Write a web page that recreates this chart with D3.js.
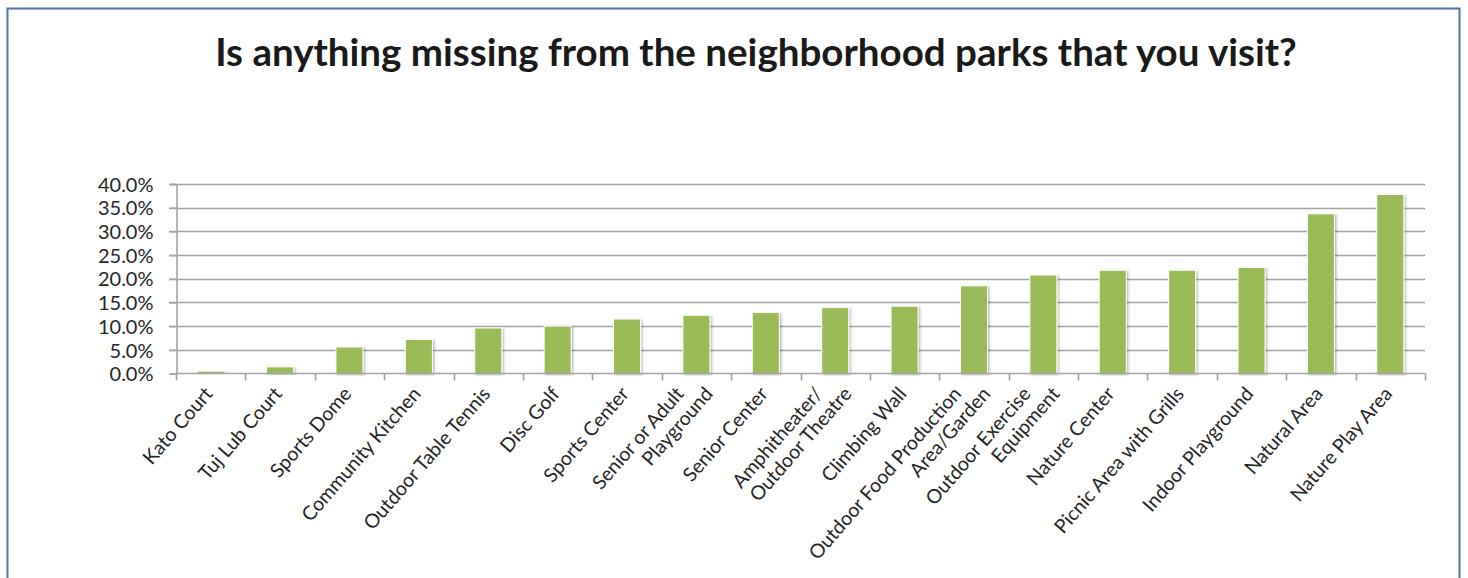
<!DOCTYPE html>
<html>
<head>
<meta charset="utf-8">
<script src="https://cdn.jsdelivr.net/npm/d3@7"></script>
<style>
  html, body { margin: 0; padding: 0; background: #fff; }
  svg { display: block; }
</style>
</head>
<body>
<svg id="chart" width="1468" height="578"></svg>
<script>
// Amenities respondents said are missing from neighborhood parks (share of responses, %)
const categories = [
  "Kato Court", "Tuj Lub Court", "Sports Dome", "Community Kitchen",
  "Outdoor Table Tennis", "Disc Golf", "Sports Center",
  "Senior or Adult\nPlayground", "Senior Center",
  "Amphitheater/\nOutdoor Theatre", "Climbing Wall",
  "Outdoor Food Production\nArea/Garden", "Outdoor Exercise\nEquipment",
  "Nature Center", "Picnic Area with Grills", "Indoor Playground",
  "Natural Area", "Nature Play Area"
];
const values = [0.5, 1.4, 5.6, 7.2, 9.6, 10.0, 11.5, 12.3, 12.9, 13.9, 14.2,
                18.5, 20.8, 21.8, 21.8, 22.4, 33.7, 37.8];
const yTicks = [0, 5, 10, 15, 20, 25, 30, 35, 40];
const titleText = "Is anything missing from the neighborhood parks that you visit?";

const svg = d3.select("#chart");
const plot = { left: 176, right: 1425, top: 184, bottom: 373.5 };

// drop shadow used under the bars
const defs = svg.append("defs");
const f = defs.append("filter").attr("id", "barShadow")
  .attr("x", "-30%").attr("y", "-10%").attr("width", "160%").attr("height", "130%");
f.append("feDropShadow").attr("dx", 1.5).attr("dy", 1).attr("stdDeviation", 1.2)
  .attr("flood-color", "#000").attr("flood-opacity", 0.28);

// outer chart frame
svg.append("rect")
  .attr("x", 7.5).attr("y", 8.5).attr("width", 1452).attr("height", 620)
  .attr("fill", "#fff").attr("stroke", "#4a78ad").attr("stroke-width", 2);

// title, fitted to its line width
const title = svg.append("text")
  .attr("x", 756).attr("y", 66)
  .attr("text-anchor", "middle")
  .attr("font-family", "Lato, 'Open Sans', sans-serif")
  .attr("font-weight", 700)
  .attr("font-size", 36)
  .attr("fill", "#1a1a1a")
  .text(titleText);
const tw = title.node().getComputedTextLength();
title.attr("font-size", 36 * 1082 / tw);

const x = d3.scaleBand()
  .domain(categories)
  .range([plot.left, plot.right])
  .paddingInner(0.61)
  .paddingOuter(0.305);

const y = d3.scaleLinear()
  .domain([0, 40])
  .range([plot.bottom, plot.top]);

// horizontal gridlines
svg.append("g").selectAll("line")
  .data(yTicks.filter(d => d > 0))
  .join("line")
  .attr("x1", plot.left - 7).attr("x2", plot.right)
  .attr("y1", d => Math.round(y(d)) + 0.5).attr("y2", d => Math.round(y(d)) + 0.5)
  .attr("stroke", "#a3a3a3").attr("stroke-width", 1.6);

// y axis
const yAxis = d3.axisLeft(y)
  .tickValues(yTicks)
  .tickSize(7)
  .tickPadding(16)
  .tickFormat(d => d.toFixed(1) + "%");
const gy = svg.append("g")
  .attr("transform", `translate(${plot.left + 0.5},0)`)
  .call(yAxis);
gy.select(".domain").attr("stroke", "#a3a3a3").attr("stroke-width", 1.6);
gy.selectAll(".tick line").attr("stroke", "#a3a3a3").attr("stroke-width", 1.6);
gy.selectAll(".tick text")
  .attr("font-family", "Lato, sans-serif")
  .attr("font-size", 20)
  .attr("fill", "#262626")
  .attr("dy", "0.36em");

// bars
svg.append("g").selectAll("rect")
  .data(categories.map((c, i) => ({ c, v: values[i] })))
  .join("rect")
  .attr("x", d => x(d.c))
  .attr("y", d => y(d.v))
  .attr("width", x.bandwidth())
  .attr("height", d => y(0) - y(d.v))
  .attr("fill", "#9bbb59")
  .attr("stroke", "#ffffff")
  .attr("stroke-width", 1)
  .attr("filter", "url(#barShadow)");

// x axis baseline and category boundary ticks
const step = x.step();
const boundaries = d3.range(categories.length + 1)
  .map(i => plot.left + i * step);
const gx = svg.append("g");
gx.append("line")
  .attr("x1", plot.left).attr("x2", plot.right)
  .attr("y1", plot.bottom).attr("y2", plot.bottom)
  .attr("stroke", "#a3a3a3").attr("stroke-width", 1.6);
gx.selectAll("line.tk")
  .data(boundaries)
  .join("line").attr("class", "tk")
  .attr("x1", d => Math.round(d) + 0.5).attr("x2", d => Math.round(d) + 0.5)
  .attr("y1", plot.bottom).attr("y2", plot.bottom + 7)
  .attr("stroke", "#a3a3a3").attr("stroke-width", 1.6);

// rotated category labels; wrapped lines share a common end height
const angle = -49;
const lineShift = 29;
const labels = svg.append("g")
  .attr("font-family", "Lato, sans-serif")
  .attr("font-size", 19.5)
  .attr("fill", "#262626");
categories.forEach(c => {
  const lines = c.split("\n");
  const cx = x(c) + x.bandwidth() / 2;
  const n = lines.length;
  lines.forEach((ln, i) => {
    const ex = cx + 3 + (i - (n - 1) / 2) * lineShift;
    const ey = plot.bottom + 21;
    labels.append("text")
      .attr("transform", `translate(${ex},${ey}) rotate(${angle})`)
      .attr("text-anchor", "end")
      .text(ln);
  });
});
</script>
</body>
</html>
